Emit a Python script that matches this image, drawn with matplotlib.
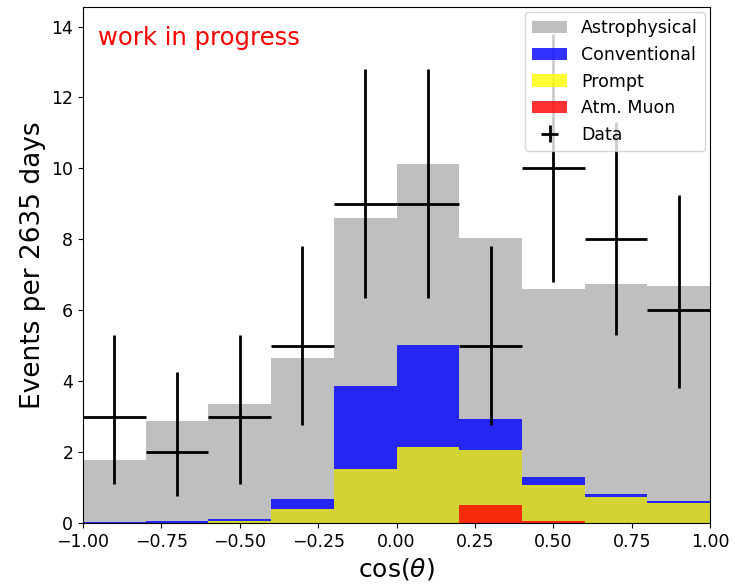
import numpy as np
import matplotlib
matplotlib.use("Agg")
import matplotlib.pyplot as plt

# cos(zenith) binning
bin_edges = np.linspace(-1.0, 1.0, 11)
bin_centers = 0.5 * (bin_edges[1:] + bin_edges[:-1])

# expected events per bin
muon = np.array([0.0, 0.0, 0.0, 0.0, 0.0, 0.0, 0.51, 0.06, 0.0, 0.0])
prompt = np.array([0.0, 0.01, 0.06, 0.39, 1.52, 2.13, 1.54, 1.01, 0.74, 0.57])
conventional = np.array([0.02, 0.04, 0.06, 0.28, 2.33, 2.90, 0.88, 0.24, 0.08, 0.04])
astrophysical = np.array([1.76, 2.83, 3.24, 3.99, 4.74, 5.08, 5.12, 5.30, 5.93, 6.08])

# observed data with asymmetric errors
data = np.array([3, 2, 3, 5, 9, 9, 5, 10, 8, 6])
err_low = np.array([1.9, 1.25, 1.9, 2.25, 2.65, 2.65, 2.25, 3.2, 2.7, 2.2])
err_up = np.array([2.3, 2.25, 2.3, 2.8, 3.8, 3.8, 2.8, 3.8, 3.3, 3.25])

# cumulative stacks, drawn on top of each other
c_muon = muon
c_prompt = c_muon + prompt
c_conv = c_prompt + conventional
c_astro = c_conv + astrophysical

fig = plt.figure(figsize=(7.35, 5.84), dpi=100)
ax = fig.add_axes([0.113, 0.1045, 0.853, 0.8835])

ax.hist(bin_centers, bins=bin_edges, weights=c_astro, histtype="stepfilled",
        color="grey", alpha=0.5, label="Astrophysical")
ax.hist(bin_centers, bins=bin_edges, weights=c_conv, histtype="stepfilled",
        color="blue", alpha=0.8, label="Conventional")
ax.hist(bin_centers, bins=bin_edges, weights=c_prompt, histtype="stepfilled",
        color="yellow", alpha=0.8, label="Prompt")
ax.hist(bin_centers, bins=bin_edges, weights=c_muon, histtype="stepfilled",
        color="red", alpha=0.8, label="Atm. Muon")
ax.errorbar(bin_centers, data, xerr=0.1, yerr=[err_low, err_up], fmt="none",
            ecolor="black", elinewidth=2, label="Data")

ax.text(0.024, 0.94, "work in progress", color="red", fontsize=17.5,
        transform=ax.transAxes, va="center")

ax.set_xlim(-1, 1)
ax.set_ylim(0, 14.55)
ax.set_xlabel(r"cos($\theta$)", fontsize=18)
ax.set_ylabel("Events per 2635 days", fontsize=19)
ax.tick_params(labelsize=12.5)
ax.legend(loc="upper right", fontsize=12.5, borderaxespad=0.3)

fig.savefig("out.png", dpi=100)
